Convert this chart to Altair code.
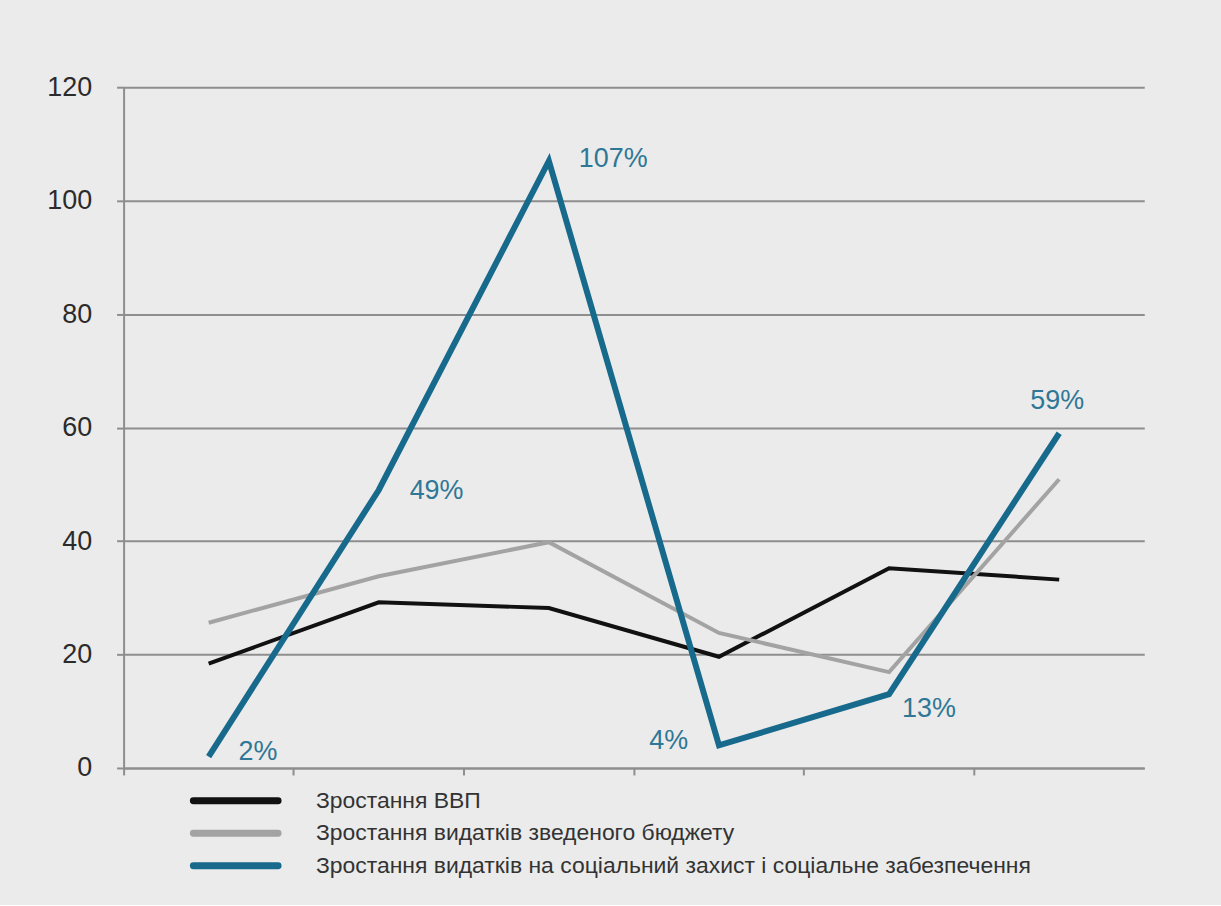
import altair as alt
import pandas as pd

periods = ["1", "2", "3", "4", "5", "6"]
series = [
    "Зростання ВВП",
    "Зростання видатків зведеного бюджету",
    "Зростання видатків на соціальний захист і соціальне забезпечення",
]
gdp = [18.4, 29.2, 28.2, 19.6, 35.2, 33.2]
budget = [25.6, 33.8, 39.8, 23.8, 16.9, 50.9]
social = [2, 49, 107, 4, 13, 59]
social_labels = ["2%", "49%", "107%", "4%", "13%", "59%"]

colors = ["#111111", "#a3a3a3", "#176a8c"]
widths = [4, 4, 6]

rows = []
for s, vals in zip(series, [gdp, budget, social]):
    for p, v in zip(periods, vals):
        rows.append({"period": p, "series": s, "value": v})
df = pd.DataFrame(rows)

lab_df = pd.DataFrame({"period": periods, "value": social, "label": social_labels})
leg_df = pd.DataFrame({"series": series})

FONT = "Liberation Sans, Arial, sans-serif"
AXC = "#8e8e8e"

x_enc = alt.X(
    "period:O",
    sort=periods,
    scale=alt.Scale(type="band", paddingInner=0, paddingOuter=0),
    axis=alt.Axis(labels=False, title=None, bandPosition=0, tickSize=7,
                  tickColor=AXC, tickWidth=2, domainColor=AXC, domainWidth=2, grid=False),
)
y_scale = alt.Scale(domain=[0, 120], nice=False, zero=True)
y_axis = alt.Axis(values=[0, 20, 40, 60, 80, 100, 120], title=None,
                  tickSize=7, tickColor=AXC, tickWidth=2,
                  domainColor=AXC, domainWidth=2,
                  grid=True, gridColor=AXC, gridWidth=2,
                  labelFont=FONT, labelFontSize=27, labelColor="#2b2b2b",
                  labelPadding=25)
color_scale = alt.Scale(domain=series, range=colors)

line_layers = []
for s, w in zip(series, widths):
    line_layers.append(
        alt.Chart(df).transform_filter(alt.datum.series == s)
        .mark_line(strokeWidth=w, strokeJoin="miter")
        .encode(
            x=x_enc,
            y=alt.Y("value:Q", scale=y_scale, axis=y_axis),
            color=alt.Color("series:N", scale=color_scale, legend=None),
        )
    )

offsets = {
    "2%": (30, -5, "left"),
    "49%": (31, 1, "left"),
    "107%": (30, -2, "left"),
    "4%": (-31, -4, "right"),
    "13%": (13, 15, "left"),
    "59%": (-2, -32, "center"),
}
label_layers = []
for lab in social_labels:
    dx, dy, al = offsets[lab]
    label_layers.append(
        alt.Chart(lab_df).transform_filter(alt.datum.label == lab).mark_text(
            dx=dx, dy=dy, align=al, baseline="middle",
            font=FONT, fontSize=27, color="#2f7796",
        ).encode(
            x=x_enc,
            y=alt.Y("value:Q", scale=y_scale, axis=y_axis),
            text="label:N",
        )
    )

plot = alt.layer(*line_layers, *label_layers)

leg_y = alt.Y("series:N", sort=series,
              scale=alt.Scale(type="point", domain=series, range=[716, 781], padding=0),
              axis=None)
leg_rules = alt.Chart(leg_df).mark_rule(strokeWidth=7, strokeCap="round").encode(
    x=alt.value(70), x2=alt.value(155), y=leg_y,
    color=alt.Color("series:N", scale=color_scale, legend=None),
)
leg_text = alt.Chart(leg_df).mark_text(
    align="left", baseline="middle", font=FONT,
    fontSize=23, color="#333333",
).encode(x=alt.value(193), y=leg_y, text="series:N")
legend = alt.layer(leg_rules, leg_text)

chart = alt.layer(plot, legend).resolve_scale(y="independent").properties(
    width=1024, height=683,
    padding={"left": 46, "top": 72, "right": 77, "bottom": 26},
    background="#ebebeb",
).configure_view(stroke=None)

chart.save("out.html", embed_options={"renderer": "svg", "actions": False})
